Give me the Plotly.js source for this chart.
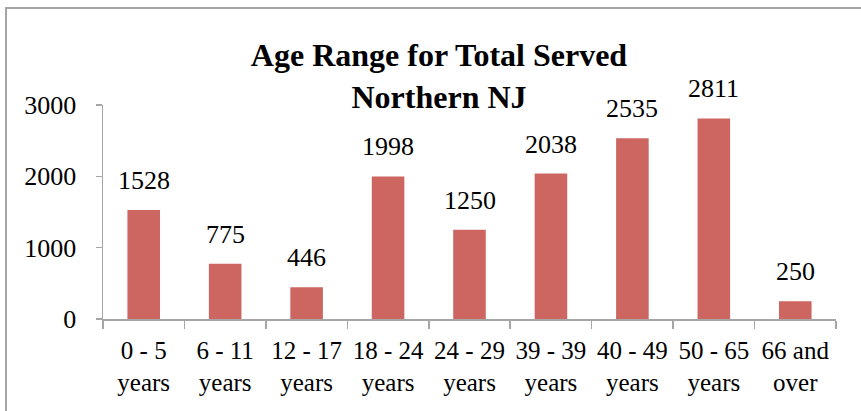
<!DOCTYPE html>
<html>
<head>
<meta charset="utf-8">
<script src="https://cdn.plot.ly/plotly-3.0.1.min.js"></script>
<style>html,body{margin:0;padding:0;background:#fff;}#chart{width:861px;height:411px;}</style>
</head>
<body>
<div id="chart"></div>
<script>
const categories = ["0 - 5<br>years", "6 - 11<br>years", "12 - 17<br>years", "18 - 24<br>years", "24 - 29<br>years", "39 - 39<br>years", "40 - 49<br>years", "50 - 65<br>years", "66 and<br>over"];
const values = [1528, 775, 446, 1998, 1250, 2038, 2535, 2811, 250];
const yTicks = [0, 1000, 2000, 3000];

const font = "Liberation Serif, Times New Roman, serif";
const L = 103, R = 25, T = 105, B = 92;
const W = 861, H = 411;
const pw = W - L - R, ph = H - T - B;
const px = x => (x - L) / pw;
const py = y => (H - B - y) / ph;

const trace = {
  type: "bar",
  x: categories,
  y: values,
  marker: {color: "#CD6561"},
  cliponaxis: false,
  width: 0.4,
  hoverinfo: "none"
};

const labels = categories.map((c, i) => ({
  x: c, y: values[i], xref: "x", yref: "y",
  text: String(values[i]), showarrow: false,
  xanchor: "center", yanchor: "bottom", yshift: 13,
  font: {family: font, size: 26, color: "#000"}
}));

const layout = {
  width: W, height: H,
  margin: {l: L, r: R, t: T, b: B},
  paper_bgcolor: "#fff",
  plot_bgcolor: "#fff",
  showlegend: false,
  title: {
    text: "<b>Age Range for Total Served<br>Northern NJ</b>",
    font: {family: font, size: 32, color: "#000"},
    x: px(439), xref: "paper", xanchor: "center",
    y: 1 - 66 / H, yref: "container", yanchor: "middle"
  },
  xaxis: {
    type: "category",
    showline: true, linecolor: "#a6a6a6", linewidth: 1.5,
    ticks: "outside", tickson: "boundaries", ticklen: 8, tickcolor: "#a6a6a6", tickwidth: 1.5,
    ticklabelstandoff: 8,
    tickfont: {family: font, size: 25, color: "#000"},
    showgrid: false, zeroline: false, fixedrange: true
  },
  yaxis: {
    range: [0, 3000],
    tickvals: yTicks,
    ticktext: yTicks.map(String),
    showline: true, linecolor: "#a6a6a6", linewidth: 1.5,
    ticks: "outside", ticklen: 6, tickcolor: "#a6a6a6", tickwidth: 1.5,
    ticklabelstandoff: 14,
    tickfont: {family: font, size: 26, color: "#000"},
    showgrid: false, zeroline: false, fixedrange: true
  },
  annotations: labels,
  shapes: [{
    type: "rect", xref: "paper", yref: "paper",
    x0: px(6), x1: px(875), y0: py(425), y1: py(8),
    line: {color: "#a6a6a6", width: 2}, fillcolor: "rgba(0,0,0,0)", layer: "below"
  }]
};

Plotly.newPlot("chart", [trace], layout, {staticPlot: true, displayModeBar: false});
</script>
</body>
</html>
